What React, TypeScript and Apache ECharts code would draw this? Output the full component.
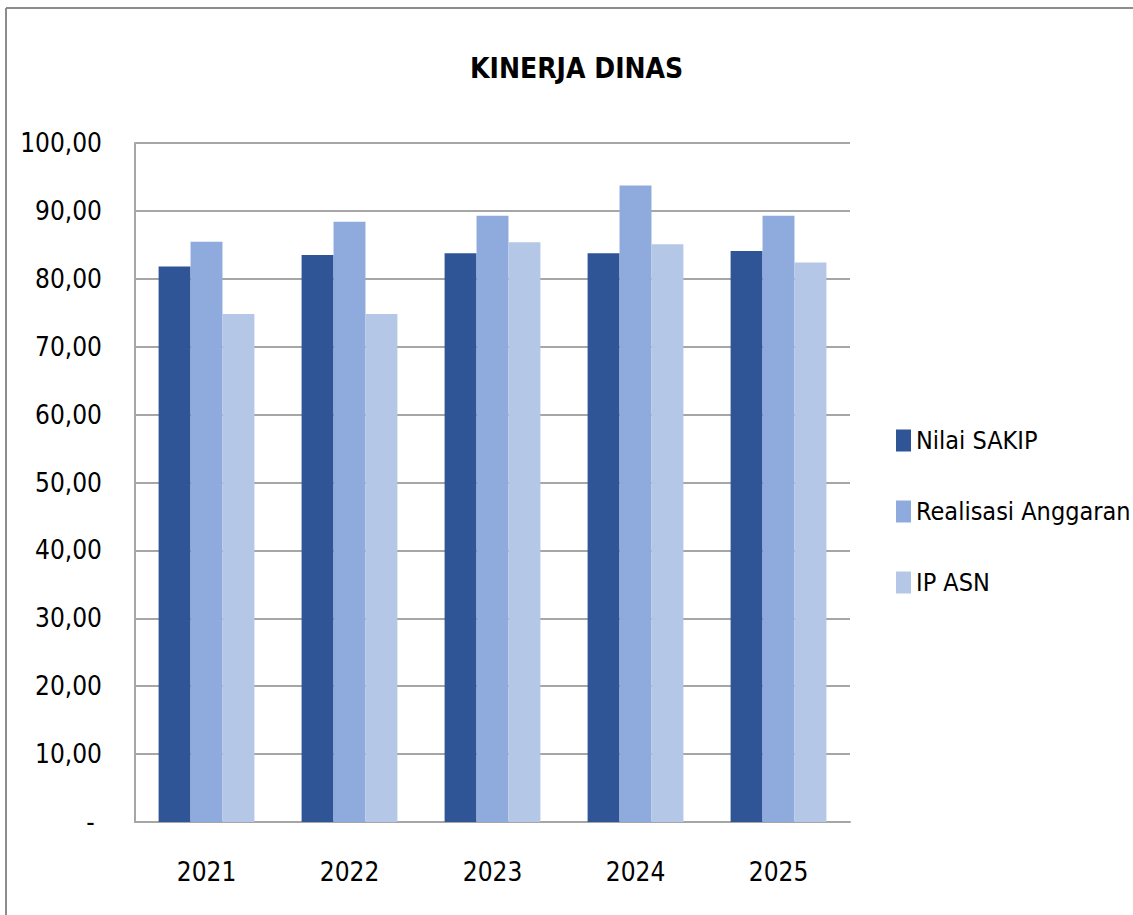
import React, { useEffect, useRef } from "react";
import * as echarts from "echarts";

const categories = ["2021", "2022", "2023", "2024", "2025"];
const seriesNames = ["Nilai SAKIP", "Realisasi Anggaran", "IP ASN"];
const nilaiSakip = [81.8, 83.5, 83.75, 83.75, 84.1];
const realisasiAnggaran = [85.45, 88.4, 89.3, 93.75, 89.3];
const ipAsn = [74.8, 74.8, 85.4, 85.1, 82.4];
const colors = ["#2F5597", "#8FAADC", "#B4C7E7"];

const FONT = "'Liberation Sans Narrow', 'DejaVu Sans Condensed', sans-serif";

export default function App() {
  const ref = useRef<HTMLDivElement>(null);
  useEffect(() => {
    if (!ref.current) return;
    const chart = echarts.init(ref.current, undefined, { renderer: "svg" });
    const values = [nilaiSakip, realisasiAnggaran, ipAsn];
    chart.setOption({
      animation: false,
      backgroundColor: "#ffffff",
      textStyle: { fontFamily: FONT },
      title: {
        text: "KINERJA DINAS",
        left: 465,
        top: 49,
        textStyle: { fontFamily: FONT, fontSize: 28, fontWeight: "bold", color: "#000" },
      },
      legend: {
        orient: "vertical",
        left: 891,
        top: 423,
        itemWidth: 15,
        itemHeight: 22,
        itemGap: 46,
        icon: "rect",
        data: seriesNames,
        textStyle: { fontFamily: FONT, fontSize: 25, color: "#000" },
      },
      grid: { left: 135, top: 143, right: 283, bottom: 93, containLabel: false },
      xAxis: {
        type: "category",
        data: categories,
        axisLine: { show: true, lineStyle: { color: "#A6A6A6", width: 2 } },
        axisTick: { show: false },
        axisLabel: { margin: 37, fontFamily: FONT, fontSize: 26, color: "#000", lineHeight: 26 },
      },
      yAxis: {
        type: "value",
        min: 0,
        max: 100,
        interval: 10,
        axisLine: { show: true, lineStyle: { color: "#A6A6A6", width: 2 } },
        axisTick: { show: false },
        splitLine: { show: true, lineStyle: { color: "#A6A6A6", width: 2 } },
        axisLabel: {
          margin: 33,
          fontFamily: FONT,
          fontSize: 26,
          color: "#000",
          formatter: (v: number) => (v === 0 ? "- " : v.toFixed(2).replace(".", ",")),
        },
      },
      series: seriesNames.map((name, i) => ({
        name,
        type: "bar",
        data: values[i],
        barGap: "0%",
        barCategoryGap: "33%",
        itemStyle: { color: colors[i] },
      })),
      graphic: [
        { type: "line", shape: { x1: 6, y1: 8, x2: 1133, y2: 8 }, style: { stroke: "#8C8C8C", lineWidth: 2 } },
        { type: "line", shape: { x1: 6, y1: 8, x2: 6, y2: 915 }, style: { stroke: "#8C8C8C", lineWidth: 2 } },
      ],
    });
    return () => chart.dispose();
  }, []);
  return (
    <div
      ref={ref}
      style={{ position: "fixed", left: 0, top: 0, width: 1133, height: 915 }}
    />
  );
}
